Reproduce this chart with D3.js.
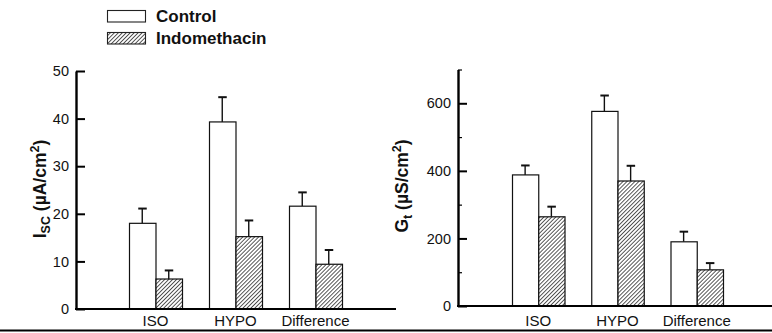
<!DOCTYPE html>
<html><head><meta charset="utf-8">
<script src="https://cdn.jsdelivr.net/npm/d3@7"></script>
<style>
body{margin:0;background:#fff;}
svg{display:block;font-family:"Liberation Sans",Arial,Helvetica,sans-serif;}
</style></head>
<body>
<svg id="chart" width="772" height="333"></svg>
<script>
const categories = ["ISO", "HYPO", "Difference"];
const seriesNames = ["Control", "Indomethacin"];
// Short-circuit current Isc (µA/cm2)
const iscControl = [18.0, 39.3, 21.6];
const iscControlErr = [3.1, 5.2, 2.9];
const iscIndo = [6.3, 15.2, 9.4];
const iscIndoErr = [1.8, 3.4, 3.0];
// Conductance Gt (µS/cm2)
const gtControl = [388, 576, 190];
const gtControlErr = [28, 47, 30];
const gtIndo = [264, 370, 107];
const gtIndoErr = [30, 45, 20];
const iscTicks = [0, 10, 20, 30, 40, 50];
const gtTicks = [0, 200, 400, 600];
const gtMinorTicks = [100, 300, 500, 700];

const svg = d3.select("#chart");
const defs = svg.append("defs");
const P = 2.8;
const pat = defs.append("pattern").attr("id","hatch").attr("patternUnits","userSpaceOnUse")
  .attr("width",P).attr("height",P).attr("patternTransform","rotate(45)");
pat.append("rect").attr("width",P).attr("height",P).attr("fill","#fff");
pat.append("line").attr("x1",0).attr("y1",0).attr("x2",0).attr("y2",P)
  .attr("stroke","#000").attr("stroke-width",1.3);

const fills = ["#fff", "url(#hatch)"];

function panel(opts){
  const g = svg.append("g");
  const y = d3.scaleLinear().domain(opts.domain).range([opts.y0, opts.y1]);
  const x = d3.scaleBand().domain(categories).range(opts.xr).paddingInner(0.3375).paddingOuter(0);
  const xs = d3.scaleBand().domain(seriesNames).range([0, x.bandwidth()]);

  const data = [];
  categories.forEach((c,i)=>{
    data.push({c, s:seriesNames[0], v:opts.ctrl[i], e:opts.ctrlErr[i]});
    data.push({c, s:seriesNames[1], v:opts.indo[i], e:opts.indoErr[i]});
  });

  // error bars
  const eb = g.selectAll("g.eb").data(data).join("g");
  eb.append("line")
    .attr("x1", d=>x(d.c)+xs(d.s)+xs.bandwidth()/2)
    .attr("x2", d=>x(d.c)+xs(d.s)+xs.bandwidth()/2)
    .attr("y1", d=>y(d.v)).attr("y2", d=>y(d.v+d.e))
    .attr("stroke","#111").attr("stroke-width",1.4);
  eb.append("line")
    .attr("x1", d=>x(d.c)+xs(d.s)+xs.bandwidth()/2-4)
    .attr("x2", d=>x(d.c)+xs(d.s)+xs.bandwidth()/2+4.5)
    .attr("y1", d=>y(d.v+d.e)).attr("y2", d=>y(d.v+d.e))
    .attr("stroke","#111").attr("stroke-width",2);

  // bars
  g.selectAll("rect.bar").data(data).join("rect")
    .attr("x", d=>x(d.c)+xs(d.s)+0.5)
    .attr("y", d=>y(d.v))
    .attr("width", xs.bandwidth())
    .attr("height", d=>y(0)-y(d.v))
    .attr("fill", d=>fills[seriesNames.indexOf(d.s)])
    .attr("stroke","#111").attr("stroke-width",1.2);

  // baseline
  g.append("line").attr("x1", opts.axisX-1).attr("x2", opts.baseEnd)
    .attr("y1", y(0)).attr("y2", y(0)).attr("stroke","#000").attr("stroke-width",2.2);

  // y axis
  const ax = g.append("g").attr("transform",`translate(${opts.axisX},0)`)
    .call(d3.axisLeft(y).tickValues(opts.ticks).tickSizeInner(-9).tickSizeOuter(0).tickPadding(7));
  ax.select(".domain").attr("stroke","#000").attr("stroke-width",2.4);
  ax.selectAll(".tick line").attr("stroke","#000").attr("stroke-width",2);
  ax.selectAll(".tick text").attr("font-size",14.5).attr("fill","#111").attr("font-family",'"Liberation Sans",Arial,sans-serif');
  if (opts.minor){
    const mx = g.append("g").attr("transform",`translate(${opts.axisX},0)`)
      .call(d3.axisLeft(y).tickValues(opts.minor).tickSizeInner(-4).tickSizeOuter(0).tickFormat(""));
    mx.select(".domain").remove();
    mx.selectAll(".tick line").attr("stroke","#000").attr("stroke-width",1.2);
  }
  // x labels
  const xa = g.append("g").attr("transform",`translate(0,${opts.labelY})`)
    .call(d3.axisBottom(x).tickSize(0).tickPadding(0));
  xa.select(".domain").remove();
  xa.selectAll(".tick text").attr("font-size",15).attr("fill","#111").attr("font-family",'"Liberation Sans",Arial,sans-serif');

  // title
  const t = g.append("text").attr("transform",`translate(${opts.titleX},${opts.titleY}) rotate(-90)`)
    .attr("text-anchor","middle").attr("font-weight","bold").attr("font-size",17.5).attr("fill","#111");
  t.append("tspan").text(opts.t1);
  t.append("tspan").attr("font-size",12.5).attr("dy",4).text(opts.tsub);
  t.append("tspan").attr("dy",-4).text(" (" + opts.unit);
  t.append("tspan").attr("font-size",12.5).attr("dy",-7).text("2");
  t.append("tspan").attr("dy",7).text(")");
}

panel({domain:[0,50], y0:309, y1:71, xr:[129,342], ctrl:iscControl, ctrlErr:iscControlErr,
  indo:iscIndo, indoErr:iscIndoErr, ticks:iscTicks, axisX:76, baseEnd:396, labelY:315,
  titleX:46, titleY:189, t1:"I", tsub:"SC", unit:"µA/cm"});
panel({domain:[0,700], y0:306, y1:69.5, xr:[512,723], ctrl:gtControl, ctrlErr:gtControlErr,
  indo:gtIndo, indoErr:gtIndoErr, ticks:gtTicks, minor:gtMinorTicks, axisX:458, baseEnd:772, labelY:315,
  titleX:408, titleY:186, t1:"G", tsub:"t", unit:"µS/cm"});

// bottom border
svg.append("line").attr("x1",0).attr("x2",772).attr("y1",330.5).attr("y2",330.5).attr("stroke","#000").attr("stroke-width",2.2);

// legend
const lg = svg.append("g");
seriesNames.forEach((s,i)=>{
  lg.append("rect").attr("x",107.5).attr("y",10.5+i*22).attr("width",38).attr("height",11.5)
    .attr("fill",fills[i]).attr("stroke","#222").attr("stroke-width",1.1);
  lg.append("text").attr("x",156).attr("y",22+i*22).attr("font-size",17).attr("font-weight","bold")
    .attr("fill","#111").text(s);
});
</script>
</body></html>
